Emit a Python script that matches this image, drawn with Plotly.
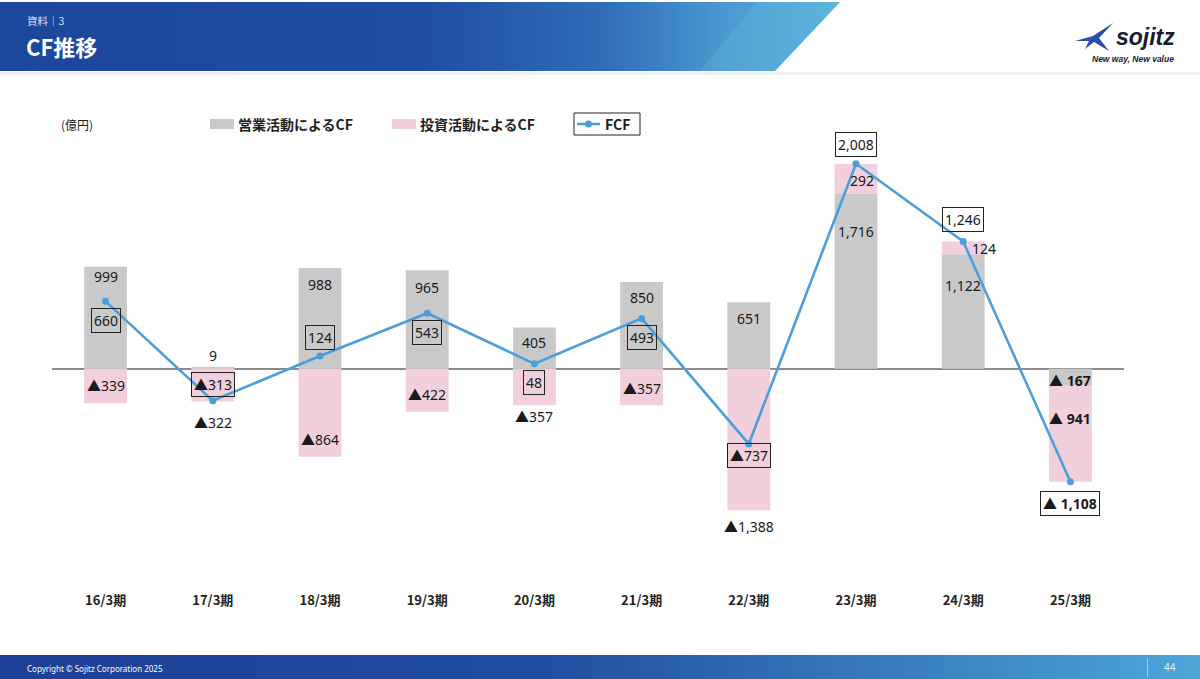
import base64
import plotly.graph_objects as go

# ---------------- data ----------------
categories = ["16/3期", "17/3期", "18/3期", "19/3期", "20/3期",
              "21/3期", "22/3期", "23/3期", "24/3期", "25/3期"]
operating_cf = [999, 9, 988, 965, 405, 850, 651, 1716, 1122, -167]
investing_cf = [-339, -322, -864, -422, -357, -357, -1388, 292, 124, -941]
fcf = [660, -313, 124, 543, 48, 493, -737, 2008, 1246, -1108]

# ---------------- styles ----------------
W, H = 1200, 679
ML, MR, MT, MB = 52, 76, 134, 96
GRAY = "#C9C9C9"
PINK = "#F2CFDC"
BLUE = "#4A9FDA"
FONT = "Noto Sans, Noto Sans CJK JP, sans-serif"
JFONT = "Noto Sans CJK JP, sans-serif"

# label offsets in px (style only)
op_yshift = [-10, 12, -17, -17, -15, -16, -16, -38, -31, 5]
op_xshift = [0, 0, 0, 0, 0, 0, 0, 0, 0, 0]
inv_yshift = [18, -21, 17, 17, -11, 17, -16, -17, -7, 63]
inv_xshift = [0, 0, 0, 0, 0, 0, 0, 6, 21, 0]
fcf_yshift = [-19, 16, 19, -19, -19, -19, -12, 19, 22, -22]
bold_flags = [False] * 9 + [True]


def fmt(v, bold=False):
    s = ("▲" + (" " if bold else "") + f"{-v:,}") if v < 0 else f"{v:,}"
    return f"<b>{s}</b>" if bold else s


def px(xp):
    return (xp - ML) / (W - ML - MR)


def py(yp):
    return (H - MB - yp) / (H - MT - MB)


fig = go.Figure()
fig.add_trace(go.Bar(x=categories, y=operating_cf, name="営業活動によるCF",
                     marker=dict(color=GRAY, line=dict(width=0)), width=0.4,
                     hoverinfo="skip"))
fig.add_trace(go.Bar(x=categories, y=investing_cf, name="投資活動によるCF",
                     marker=dict(color=PINK, line=dict(width=0)), width=0.4,
                     hoverinfo="skip"))
fig.add_trace(go.Scatter(x=categories, y=fcf, name="FCF", mode="lines+markers",
                         line=dict(color=BLUE, width=2.6),
                         marker=dict(color=BLUE, size=7), hoverinfo="skip"))

ann = []
for i, c in enumerate(categories):
    op, inv, f = operating_cf[i], investing_cf[i], fcf[i]
    b = bold_flags[i]
    ann.append(dict(x=c, y=op, xref="x", yref="y", text=fmt(op, b), showarrow=False,
                    xshift=op_xshift[i], yshift=op_yshift[i],
                    font=dict(family=FONT, size=14, color="#1a1a1a")))
    inv_end = op + inv if (op > 0) == (inv > 0) else inv
    ann.append(dict(x=c, y=inv_end, xref="x", yref="y", text=fmt(inv, b), showarrow=False,
                    xshift=inv_xshift[i], yshift=inv_yshift[i],
                    font=dict(family=FONT, size=14, color="#1a1a1a")))
    ann.append(dict(x=c, y=f, xref="x", yref="y", text=fmt(f, b), showarrow=False,
                    yshift=fcf_yshift[i], bordercolor="#222222", borderwidth=1,
                    borderpad=2,
                    font=dict(family=FONT, size=14, color="#1a1a1a")))

# ---------- header / footer / legend decorations ----------
header_svg = """<svg xmlns="http://www.w3.org/2000/svg" width="1200" height="80" viewBox="0 0 1200 80">
<defs><linearGradient id="g" x1="0" x2="840" y1="0" y2="0" gradientUnits="userSpaceOnUse">
<stop offset="0" stop-color="#1D469D"/><stop offset="0.5" stop-color="#1F4DA2"/>
<stop offset="0.72" stop-color="#2F6DB9"/><stop offset="0.86" stop-color="#4B98D0"/>
<stop offset="1" stop-color="#5DB1DD"/></linearGradient></defs>
<rect x="0" y="72" width="1200" height="3" fill="#f0f0f0"/>
<polygon points="0,2 840,2 775,71 0,71" fill="url(#g)"/>
<polygon points="757,2 840,2 775,71 700,71" fill="#62B6DF" opacity="0.35"/>
</svg>"""
footer_svg = """<svg xmlns="http://www.w3.org/2000/svg" width="1200" height="25" viewBox="0 0 1200 25">
<defs><linearGradient id="f" x1="0" x2="1" y1="0" y2="0">
<stop offset="0" stop-color="#1E3F96"/><stop offset="0.45" stop-color="#214DA0"/>
<stop offset="1" stop-color="#4DA6D8"/></linearGradient></defs>
<rect x="0" y="0" width="1200" height="25" fill="url(#f)"/>
<rect x="1147" y="3" width="1" height="19" fill="#9cc7e8"/>
</svg>"""


def uri(svg):
    return "data:image/svg+xml;base64," + base64.b64encode(svg.encode()).decode()


images = [
    dict(source=uri(header_svg), xref="paper", yref="paper", x=px(0), y=py(0),
         sizex=W / (W - ML - MR), sizey=80 / (H - MT - MB), sizing="stretch",
         xanchor="left", yanchor="top", layer="below"),
    dict(source=uri(footer_svg), xref="paper", yref="paper", x=px(0), y=py(655),
         sizex=W / (W - ML - MR), sizey=25 / (H - MT - MB), sizing="stretch",
         xanchor="left", yanchor="top", layer="below"),
]

shapes = [
    dict(type="rect", xref="paper", yref="paper", x0=px(210), x1=px(234),
         y0=py(129), y1=py(119), fillcolor=GRAY, line=dict(width=0)),
    dict(type="rect", xref="paper", yref="paper", x0=px(392), x1=px(416),
         y0=py(129), y1=py(119), fillcolor=PINK, line=dict(width=0)),
    dict(type="rect", xref="paper", yref="paper", x0=px(574), x1=px(640),
         y0=py(135), y1=py(113), line=dict(color="#222222", width=1)),
    dict(type="line", xref="paper", yref="paper", x0=px(577), x1=px(600),
         y0=py(124), y1=py(124), line=dict(color=BLUE, width=2.6)),
    dict(type="circle", xref="paper", yref="paper", x0=px(585), x1=px(592),
         y0=py(127.5), y1=py(120.5), fillcolor=BLUE, line=dict(width=0)),
]

# logo glyph (rough star swoosh)
glyph = [(1075, 41), (1093, 36), (1113, 23), (1099, 38), (1109, 51),
         (1094, 42), (1085, 49), (1089, 41)]
path = "M " + " L ".join(f"{px(a)},{py(b)}" for a, b in glyph) + " Z"
shapes.append(dict(type="path", xref="paper", yref="paper", path=path,
                   fillcolor="#2A4FA8", line=dict(width=0)))

ann += [
    dict(xref="paper", yref="paper", x=px(25), y=py(20), text="資料｜3", showarrow=False,
         xanchor="left", yanchor="middle", font=dict(family=JFONT, size=10.5, color="#d6e0f2")),
    dict(xref="paper", yref="paper", x=px(24), y=py(46), text="<b>CF推移</b>", showarrow=False,
         xanchor="left", yanchor="middle", font=dict(family=JFONT, size=22, color="white")),
    dict(xref="paper", yref="paper", x=px(1114), y=py(37), text="<b><i>sojitz</i></b>",
         showarrow=False, xanchor="left", yanchor="middle",
         font=dict(family="Liberation Sans, sans-serif", size=23, color="#1a1a2e")),
    dict(xref="paper", yref="paper", x=px(1176), y=py(59), text="<b><i>New way, New value</i></b>",
         showarrow=False, xanchor="right", yanchor="middle",
         font=dict(family="Liberation Sans, sans-serif", size=8.5, color="#1a1a2e")),
    dict(xref="paper", yref="paper", x=px(59), y=py(125), text="(億円)", showarrow=False,
         xanchor="left", yanchor="middle", font=dict(family=JFONT, size=12, color="#222222")),
    dict(xref="paper", yref="paper", x=px(236), y=py(124), text="<b>営業活動によるCF</b>",
         showarrow=False, xanchor="left", yanchor="middle",
         font=dict(family=JFONT, size=14, color="#222222")),
    dict(xref="paper", yref="paper", x=px(418), y=py(124), text="<b>投資活動によるCF</b>",
         showarrow=False, xanchor="left", yanchor="middle",
         font=dict(family=JFONT, size=14, color="#222222")),
    dict(xref="paper", yref="paper", x=px(603), y=py(124), text="<b>FCF</b>",
         showarrow=False, xanchor="left", yanchor="middle",
         font=dict(family=JFONT, size=14, color="#222222")),
    dict(xref="paper", yref="paper", x=px(25), y=py(668),
         text="Copyright © Sojitz Corporation 2025", showarrow=False,
         xanchor="left", yanchor="middle", font=dict(family=FONT, size=8, color="white")),
    dict(xref="paper", yref="paper", x=px(1170), y=py(667), text="44", showarrow=False,
         xanchor="center", yanchor="middle", font=dict(family=FONT, size=10, color="#e8f0fa")),
]

fig.update_layout(
    width=W, height=H, autosize=False,
    margin=dict(l=ML, r=MR, t=MT, b=MB),
    paper_bgcolor="white", plot_bgcolor="white",
    barmode="relative", showlegend=False,
    annotations=ann, shapes=shapes, images=images,
    font=dict(family=FONT),
)
fig.update_xaxes(type="category", range=[-0.5, len(categories) - 0.5],
                 showgrid=False, showline=False, ticks="",
                 tickfont=dict(family=JFONT, size=13, color="#222222", weight="bold"),
                 ticklabelstandoff=8, fixedrange=True)
fig.update_yaxes(range=[-2100, 2300], showgrid=False, showticklabels=False,
                 zeroline=True, zerolinecolor="#8C8C8C", zerolinewidth=1.5,
                 showline=False, fixedrange=True)

fig.write_html("out.html", config={"displayModeBar": False},
               post_script="document.body.style.margin='0';document.body.style.overflow='hidden';")
